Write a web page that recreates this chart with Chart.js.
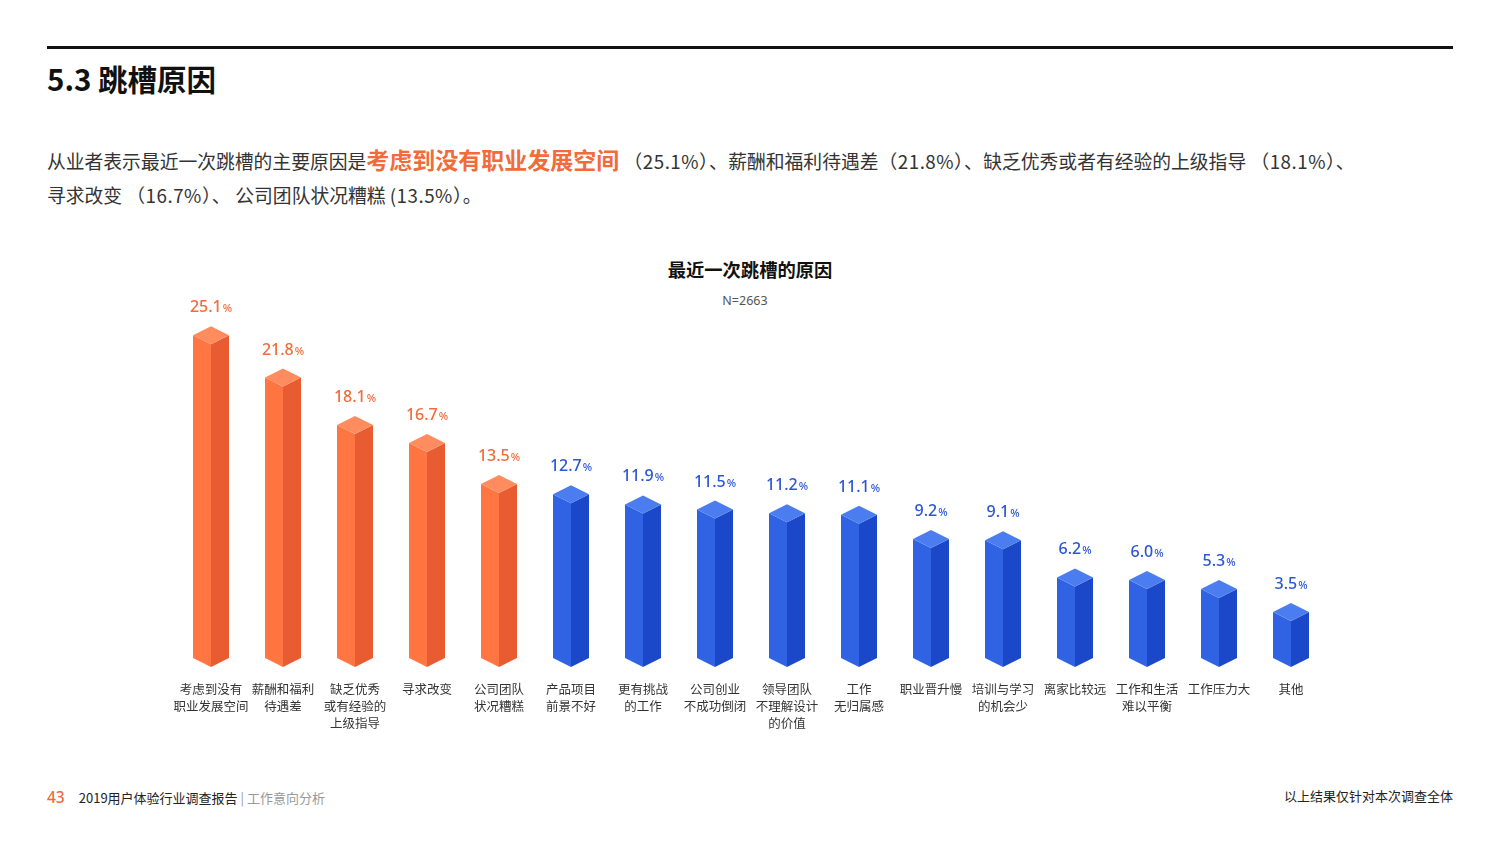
<!DOCTYPE html>
<html>
<head>
<meta charset="utf-8">
<script src="https://cdn.jsdelivr.net/npm/chart.js@4.4.1/dist/chart.umd.min.js"></script>
<style>
  html, body { margin: 0; padding: 0; background: #fff; }
  body { width: 1500px; height: 851px; position: relative; overflow: hidden;
         font-family: "Noto Sans CJK SC", "Noto Sans", sans-serif; }
  .rule { position: absolute; left: 47px; top: 46px; width: 1406px; height: 3px; background: #111; }
  .heading { position: absolute; left: 47px; top: 57px; font-size: 29.5px; font-weight: 700; color: #111; }
  .para { position: absolute; left: 47px; top: 142px; font-size: 18.8px; line-height: 34px; color: #333; }
  .para b { color: #f26b3a; font-size: 23px; font-weight: 700; }
  .para .n { letter-spacing: 0.5px; }
  .chart-title { position: absolute; left: 0; width: 1500px; top: 256px; text-align: center;
                 font-size: 18.3px; font-weight: 700; color: #111; }
  .chart-sub { position: absolute; left: 0; width: 1490px; top: 292px; text-align: center;
               font-size: 12.5px; color: #555; font-family: "Noto Sans", sans-serif; }
  .foot-l { position: absolute; left: 47px; top: 786px; font-size: 13px; color: #222; }
  .foot-l .pg { color: #f26b3a; font-size: 15.5px; font-weight: 500; margin-right: 14px; font-family: "Noto Sans", sans-serif; }
  .foot-l .sec { color: #999; }
  .foot-r { position: absolute; right: 47px; top: 786px; font-size: 13px; color: #222; }
  #wrap { position: absolute; left: 0; top: 0; width: 1500px; height: 851px; }
</style>
</head>
<body>
<div class="rule"></div>
<div class="heading">5.3 跳槽原因</div>
<div class="para">从业者表示最近一次跳槽的主要原因是<b>考虑到没有职业发展空间</b> <span class="n">（25.1%）、</span>薪酬和福利待遇差<span class="n">（21.8%）、</span>缺乏优秀或者有经验的上级指导 <span class="n">（18.1%）、</span><br>寻求改变 <span class="n">（16.7%）、</span> 公司团队状况糟糕 <span class="n">(13.5%）。</span></div>
<div class="chart-title">最近一次跳槽的原因</div>
<div class="chart-sub">N=2663</div>
<div class="foot-l"><span class="pg">43</span>2019用户体验行业调查报告 <span class="sec">| 工作意向分析</span></div>
<div class="foot-r">以上结果仅针对本次调查全体</div>
<div id="wrap"><canvas id="myChart"></canvas></div>

<script>
// data
const categories = [
    ['考虑到没有', '职业发展空间'], ['薪酬和福利', '待遇差'], ['缺乏优秀', '或有经验的', '上级指导'],
    ['寻求改变'], ['公司团队', '状况糟糕'], ['产品项目', '前景不好'], ['更有挑战', '的工作'],
    ['公司创业', '不成功倒闭'], ['领导团队', '不理解设计', '的价值'], ['工作', '无归属感'],
    ['职业晋升慢'], ['培训与学习', '的机会少'], ['离家比较远'], ['工作和生活', '难以平衡'],
    ['工作压力大'], ['其他']
];
const shares = [25.1, 21.8, 18.1, 16.7, 13.5, 12.7, 11.9, 11.5, 11.2, 11.1, 9.2, 9.1, 6.2, 6.0, 5.3, 3.5];
const topCount = 5; // first five are highlighted in orange

const orange = { top: '#ff8c5e', left: '#ff7642', right: '#e95b31', text: '#f26b3a' };
const blue = { top: '#4b7cf0', left: '#3063e4', right: '#1b48c8', text: '#2b56d6' };

// draws each bar as a little isometric prism
const prismBars = {
    id: 'prismBars',
    afterDatasetsDraw(chart) {
        const ctx = chart.ctx;
        const meta = chart.getDatasetMeta(0);
        const base = chart.chartArea.bottom;
        const hw = 18, dip = 9;
        meta.data.forEach(function (bar, i) {
            const c = i < topCount ? orange : blue;
            const x = bar.x, y = bar.y;
            // left face
            ctx.fillStyle = c.left;
            ctx.beginPath();
            ctx.moveTo(x - hw, y + dip);
            ctx.lineTo(x, y + dip * 2);
            ctx.lineTo(x, base);
            ctx.lineTo(x - hw, base - dip);
            ctx.closePath();
            ctx.fill();
            // right face
            ctx.fillStyle = c.right;
            ctx.beginPath();
            ctx.moveTo(x, y + dip * 2);
            ctx.lineTo(x + hw, y + dip);
            ctx.lineTo(x + hw, base - dip);
            ctx.lineTo(x, base);
            ctx.closePath();
            ctx.fill();
            // top
            ctx.fillStyle = c.top;
            ctx.beginPath();
            ctx.moveTo(x, y);
            ctx.lineTo(x + hw, y + dip);
            ctx.lineTo(x, y + dip * 2);
            ctx.lineTo(x - hw, y + dip);
            ctx.closePath();
            ctx.fill();

            // value label, with a smaller % sign
            const num = shares[i].toFixed(1);
            ctx.fillStyle = c.text;
            ctx.textBaseline = 'alphabetic';
            ctx.font = '500 16px "Noto Sans", sans-serif';
            const w1 = ctx.measureText(num).width;
            ctx.font = '500 11px "Noto Sans", sans-serif';
            const w2 = ctx.measureText('%').width;
            const sx = x - (w1 + w2 + 1) / 2;
            ctx.font = '500 16px "Noto Sans", sans-serif';
            ctx.textAlign = 'left';
            ctx.fillText(num, sx, y - 14);
            ctx.font = '500 11px "Noto Sans", sans-serif';
            ctx.fillText('%', sx + w1 + 1, y - 14);
        });
    }
};

const ctx = document.getElementById('myChart').getContext('2d');
const myChart = new Chart(ctx, {
    type: 'bar',
    data: {
        labels: categories,
        datasets: [{
            label: '最近一次跳槽的原因',
            data: shares,
            backgroundColor: 'rgba(0,0,0,0)',
            borderWidth: 0
        }]
    },
    options: {
        responsive: true,
        maintainAspectRatio: false,
        animation: false,
        layout: { padding: { left: 175, right: 173, top: 302, bottom: 94 } },
        plugins: {
            legend: { display: false },
            tooltip: { enabled: false }
        },
        scales: {
            x: {
                grid: { display: false, drawTicks: false },
                border: { display: false },
                ticks: {
                    color: '#333',
                    padding: 14,
                    maxRotation: 0,
                    autoSkip: false,
                    font: { family: '"Noto Sans CJK SC", sans-serif', size: 12.5, lineHeight: 1.36 }
                },
                afterFit: function (axis) { axis.height = 90; }
            },
            y: {
                display: false,
                min: -1.5,
                max: 27
            }
        }
    },
    plugins: [prismBars]
});
</script>
</body>
</html>
